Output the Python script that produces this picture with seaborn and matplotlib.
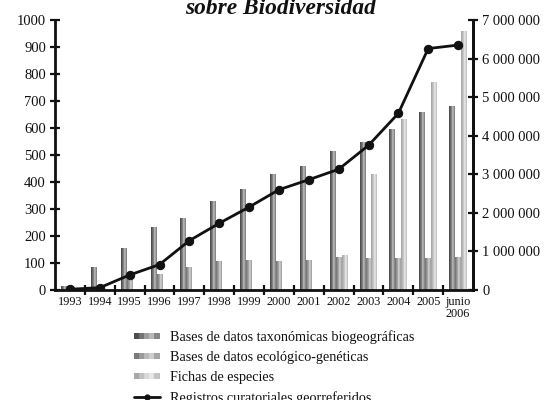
import numpy as np
import pandas as pd
import matplotlib
matplotlib.use("Agg")
import matplotlib.pyplot as plt
from matplotlib.colors import LinearSegmentedColormap
from matplotlib.patches import Rectangle
from matplotlib.lines import Line2D
from matplotlib.legend_handler import HandlerBase
from matplotlib.ticker import FuncFormatter, FixedLocator
import seaborn as sns

# Data
anios = ["1993", "1994", "1995", "1996", "1997", "1998", "1999", "2000",
         "2001", "2002", "2003", "2004", "2005", "junio\n2006"]
taxonomicas = [12, 82, 155, 230, 265, 328, 372, 428, 457, 512, 545, 595, 658, 678]
ecologicas = [10, 0, 50, 56, 83, 107, 110, 107, 110, 120, 116, 116, 116, 120]
fichas = [0, 0, 0, 0, 0, 0, 0, 0, 0, 126, 426, 633, 768, 958]
registros = [20000, 60000, 390000, 660000, 1280000, 1730000, 2150000, 2600000,
             2860000, 3130000, 3750000, 4580000, 6260000, 6350000]

series = ["Bases de datos taxonómicas biogeográficas",
          "Bases de datos ecológico-genéticas",
          "Fichas de especies"]
linea = "Registros curatoriales georreferidos"

# Shading bands for each bar series (left to right across the bar)
bandas = [
    ["#4e4e4e", "#747474", "#a0a0a0", "#b8b8b8", "#868686"],
    ["#7a7a7a", "#9a9a9a", "#bababa", "#cecece", "#a6a6a6"],
    ["#a8a8a8", "#c0c0c0", "#d8d8d8", "#e6e6e6", "#c4c4c4"],
]

df = pd.DataFrame({
    "anio": anios * 3,
    "valor": taxonomicas + ecologicas + fichas,
    "serie": [series[0]] * len(anios) + [series[1]] * len(anios) + [series[2]] * len(anios),
})

sns.set_theme(style="white")
plt.rcParams["font.family"] = ["Liberation Serif", "DejaVu Serif"]

fig = plt.figure(figsize=(5.47, 4.00), dpi=100)
ax = fig.add_axes([55 / 547, 110 / 400, 418 / 547, 270 / 400])

sns.barplot(data=df, x="anio", y="valor", hue="serie", hue_order=series,
            palette=[b[2] for b in bandas], width=0.6, saturation=1,
            legend=False, ax=ax)

# Replace flat fills with banded shading
for cont, cols in zip(ax.containers, bandas):
    cmap = LinearSegmentedColormap.from_list("b", cols)
    grad = np.linspace(0, 1, 7).reshape(1, -1)
    for p in cont.patches:
        x0, w, h = p.get_x(), p.get_width(), p.get_height()
        p.set_facecolor("none")
        p.set_edgecolor("none")
        if h <= 0:
            continue
        ax.imshow(grad, cmap=cmap, extent=[x0, x0 + w, 0, h], aspect="auto",
                  interpolation="nearest", zorder=2)

ax.set_xlim(-0.5, len(anios) - 0.5)
ax.set_ylim(0, 1000)
ax.set_xlabel("")
ax.set_ylabel("")

# Axis styling
ax.spines["top"].set_visible(False)
for s in ["left", "bottom", "right"]:
    ax.spines[s].set_linewidth(2)
    ax.spines[s].set_color("#111111")

ax.set_yticks(np.arange(0, 1001, 100))
ax.tick_params(axis="y", which="major", direction="inout", length=7, width=1.6,
               labelsize=10.5, pad=3, colors="#111111", left=True)
ax.set_xticks(np.arange(len(anios)))
ax.set_xticklabels(anios, fontsize=8.8, linespacing=1.0)
ax.tick_params(axis="x", which="major", length=0, pad=4, colors="#111111")
ax.xaxis.set_minor_locator(FixedLocator(np.arange(0.5, len(anios) - 0.5, 1)))
ax.tick_params(axis="x", which="minor", direction="inout", length=7, width=1.6,
               bottom=True, colors="#111111")

# Line on the secondary axis
ax2 = ax.twinx()
sns.lineplot(x=np.arange(len(anios)), y=registros, color="#111111", lw=2,
             marker="o", markersize=6, markeredgecolor="#111111", ax=ax2, zorder=5)
ax2.set_ylim(0, 7000000)
ax2.set_yticks(np.arange(0, 7000001, 1000000))
ax2.yaxis.set_major_formatter(FuncFormatter(lambda v, _: f"{int(v):,}".replace(",", " ")))
ax2.tick_params(axis="y", direction="inout", length=7, width=1.6, labelsize=10.5,
                pad=3, colors="#111111", right=True)
for s in ["top", "left", "bottom"]:
    ax2.spines[s].set_visible(False)
ax2.spines["right"].set_linewidth(2)
ax2.spines["right"].set_color("#111111")
ax2.set_xlim(-0.5, len(anios) - 0.5)
ax2.grid(False)
ax.grid(False)

# Title (second line of the heading)
fig.text(281 / 547, (400 - 14) / 400, "sobre Biodiversidad", ha="center",
         va="baseline", fontsize=16.8, fontweight="bold", fontstyle="italic",
         color="#111111")


class BandHandler(HandlerBase):
    def __init__(self, cols):
        super().__init__()
        self.cols = cols

    def create_artists(self, legend, orig_handle, xdescent, ydescent, width,
                       height, fontsize, trans):
        n = len(self.cols)
        hh = height * 0.65
        y0 = -ydescent + (height - hh) / 2
        arts = []
        for i, c in enumerate(self.cols):
            arts.append(Rectangle((-xdescent + i * width / n, y0), width / n, hh,
                                  facecolor=c, edgecolor="none", transform=trans))
        return arts


handles = [Rectangle((0, 0), 1, 1) for _ in series]
line_handle = Line2D([], [], color="#111111", lw=2, marker="o", markersize=3.5)
hmap = {h: BandHandler(b) for h, b in zip(handles, bandas)}
fig.legend(handles + [line_handle], series + [linea], handler_map=hmap,
           loc="upper left", bbox_to_anchor=(134 / 547, (400 - 330) / 400),
           frameon=False, fontsize=10.2, handlelength=1.8, handletextpad=0.75,
           labelspacing=0.5, borderpad=0, borderaxespad=0, labelcolor="#111111")

fig.savefig("out.png", dpi=100, facecolor="white")
